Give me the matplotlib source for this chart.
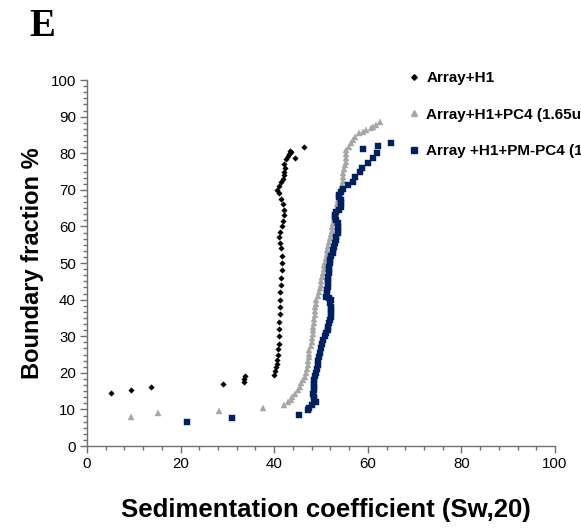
import matplotlib
matplotlib.use("Agg")
import matplotlib.pyplot as plt
from matplotlib.ticker import MultipleLocator
from matplotlib.lines import Line2D

plt.rcParams['font.family'] = ['Liberation Sans', 'DejaVu Sans']

# ---- data ----
h1_x = [5.1, 9.3, 13.6, 29.0, 33.6, 33.6, 33.7,
        39.9, 40.1, 40.3, 40.5, 40.7, 40.8, 40.9, 41.0, 41.0, 41.1, 41.1, 41.2, 41.2,
        41.3, 41.3, 41.4, 41.5, 41.7, 41.6, 41.6, 41.5, 41.2, 41.0, 41.3, 41.6, 41.8,
        42.0, 42.1, 41.8, 41.4, 41.0, 40.6, 41.0, 41.5, 41.8, 42.0, 42.1, 42.3, 42.0,
        42.5, 42.9, 43.2, 43.6, 43.4, 44.4, 46.4]
h1_y = [14.5, 15.3, 16.0, 16.9, 17.5, 18.2, 19.0,
        19.4, 20.5, 21.5, 22.5, 23.5, 25.0, 26.5, 28.0, 30.0, 32.0, 34.0, 36.0, 38.0,
        40.0, 42.0, 44.0, 46.0, 48.0, 50.0, 52.0, 54.0, 55.5, 57.0, 58.5, 60.0, 61.5,
        63.0, 64.5, 66.0, 67.5, 69.0, 70.0, 71.0, 72.0, 73.0, 74.0, 75.0, 76.0, 77.0,
        78.3, 79.2, 79.8, 80.2, 80.7, 78.6, 81.6]

pc4_x = [9.3, 15.1, 28.2, 37.6,
         42.0, 42.9, 43.5, 43.9, 44.4, 45.0, 45.5, 45.8, 46.1, 46.5, 46.8, 47.1, 47.2,
         47.3, 47.4, 47.5, 47.5, 47.8, 48.0, 48.1, 48.2, 48.2, 48.2, 48.5, 48.6, 48.7,
         48.8, 48.8, 48.9, 48.9, 49.3, 49.6, 49.8, 50.0, 50.1, 50.3, 50.5, 50.6, 50.7,
         50.9, 51.1, 51.2, 51.3, 51.5, 51.7, 51.9, 52.1, 52.3, 52.4, 52.5, 52.7, 53.0,
         53.2, 53.4, 53.5, 53.6, 53.8, 54.0, 54.2, 54.4, 54.6, 54.7, 54.8, 55.0, 55.2,
         55.3, 55.4, 55.4, 55.4, 55.9, 56.4, 56.8, 57.2, 58.2, 59.0, 59.7, 60.7, 61.2,
         61.8, 62.7]
pc4_y = [8.0, 8.9, 9.6, 10.5,
         11.3, 12.0, 12.7, 13.5, 14.3, 15.3, 16.2, 17.1, 17.9, 18.9, 19.9, 21.0, 22.0,
         23.1, 24.2, 25.2, 26.2, 27.3, 28.4, 29.5, 30.5, 31.6, 32.6, 33.7, 34.7, 35.8,
         36.8, 37.9, 38.9, 39.9, 41.0, 42.0, 43.1, 44.1, 45.2, 46.2, 47.3, 48.3, 49.4,
         50.4, 51.5, 52.5, 53.6, 54.6, 55.7, 56.7, 57.8, 58.8, 59.9, 60.9, 62.0, 63.0,
         64.1, 65.1, 66.2, 67.2, 68.3, 69.3, 70.4, 71.4, 72.5, 73.5, 74.6, 75.6, 76.7,
         77.7, 78.8, 79.8, 80.9, 81.8, 82.7, 83.6, 84.5, 85.4, 85.9, 86.3, 86.8, 87.2,
         87.7, 88.6]

pmpc4_x = [21.4, 30.9, 45.4,
           47.2, 47.5, 48.0, 48.9, 48.6, 48.4, 48.3, 48.4, 48.5, 48.6, 48.6, 48.8, 48.9,
           49.1, 49.3, 49.4, 49.6, 49.8, 50.0, 50.2, 50.4, 50.8, 51.1, 51.4, 51.6, 51.8,
           52.0, 52.2, 52.2, 52.2, 52.1, 52.0, 52.2, 51.8, 51.1, 51.2, 51.3, 51.4, 51.4,
           51.5, 51.6, 51.7, 51.8, 51.8, 51.9, 52.0, 52.2, 52.5, 52.5, 52.7, 52.9, 53.1,
           53.3, 53.6, 53.6, 53.6, 53.6, 53.3, 52.9, 52.9, 53.3, 53.8, 54.3, 54.3, 54.3,
           53.9, 53.9, 54.3, 54.7, 55.7, 56.8, 57.2, 58.4, 58.8, 60.0, 61.1, 62.0, 58.9,
           62.2, 64.9]
pmpc4_y = [6.6, 7.6, 8.5,
           9.8, 10.5, 11.2, 12.1, 12.8, 13.5, 14.3, 15.2, 16.1, 17.0, 18.0, 19.0, 19.9,
           21.0, 22.0, 23.2, 24.4, 25.5, 26.7, 27.8, 29.0, 30.0, 30.9, 31.7, 32.6, 33.5,
           34.4, 35.3, 36.3, 37.2, 38.1, 39.0, 39.9, 40.4, 40.8, 41.7, 42.6, 43.5, 44.5,
           45.4, 46.3, 47.2, 48.1, 49.0, 49.9, 50.9, 51.8, 52.7, 53.6, 54.5, 55.4, 56.3,
           57.2, 58.1, 59.0, 59.9, 60.8, 61.7, 62.5, 63.1, 63.8, 64.6, 65.4, 66.3, 67.2,
           67.9, 68.6, 69.4, 70.1, 71.3, 72.2, 73.6, 74.9, 75.9, 77.4, 78.6, 80.0, 81.1,
           82.1, 82.9]

labels = ["Array+H1", "Array+H1+PC4 (1.65uM)", "Array +H1+PM-PC4 (1.65uM)"]
x_ticks = [0, 20, 40, 60, 80, 100]
y_ticks = [0, 10, 20, 30, 40, 50, 60, 70, 80, 90, 100]

col_h1 = "#000000"
col_pc4 = "#A6A6A6"
col_pm = "#002060"
axis_col = "#6F6F6F"

fig = plt.figure(figsize=(5.81, 5.30), dpi=100)
ax = fig.add_axes([87/581, 1-446/530, (555-87)/581, (446-80)/530])

ax.plot(h1_x, h1_y, linestyle='none', marker='D', ms=2.8, color=col_h1, mec=col_h1, mew=0.3)
ax.plot(pc4_x, pc4_y, linestyle='none', marker='^', ms=5.0, color=col_pc4, mec=col_pc4, mew=0.3)
ax.plot(pmpc4_x, pmpc4_y, linestyle='none', marker='s', ms=4.6, color=col_pm, mec=col_pm, mew=0.3)

ax.set_xlim(0, 100)
ax.set_ylim(0, 100)
ax.set_xticks(x_ticks)
ax.set_yticks(y_ticks)
ax.xaxis.set_minor_locator(MultipleLocator(4))
ax.yaxis.set_minor_locator(MultipleLocator(10/6))
for s in ['top', 'right']:
    ax.spines[s].set_visible(False)
for s in ['left', 'bottom']:
    ax.spines[s].set_color(axis_col)
    ax.spines[s].set_linewidth(1.0)
ax.tick_params(which='major', direction='out', length=5, width=1.0, color=axis_col,
               labelsize=10.8, pad=3, labelcolor='#000000')
ax.tick_params(which='minor', direction='out', length=3, width=1.0, color=axis_col)

fig.text(33/581, 1-263/530, "Boundary fraction %", rotation=90, ha='center', va='center',
         fontsize=17, fontweight='bold')
fig.text(326/581, 1-510/530, "Sedimentation coefficient (Sw,20)", ha='center', va='center',
         fontsize=18.5, fontweight='bold')
fig.text(42/581, 1-27/530, "E", ha='center', va='center', fontsize=28, fontweight='bold',
         family=['Liberation Serif', 'DejaVu Serif'])

handles = [
    Line2D([], [], linestyle='none', marker='D', ms=2.8, color=col_h1),
    Line2D([], [], linestyle='none', marker='^', ms=5.0, color=col_pc4),
    Line2D([], [], linestyle='none', marker='s', ms=4.6, color=col_pm),
]
leg = fig.legend(handles, labels, loc='upper left', bbox_to_anchor=(408/581, 1-71/530),
                 frameon=False, prop={'weight': 'bold', 'size': 11}, labelspacing=1.48,
                 handlelength=0.8, handletextpad=0.4, borderaxespad=0, borderpad=0)

fig.savefig("out.png", dpi=100)
